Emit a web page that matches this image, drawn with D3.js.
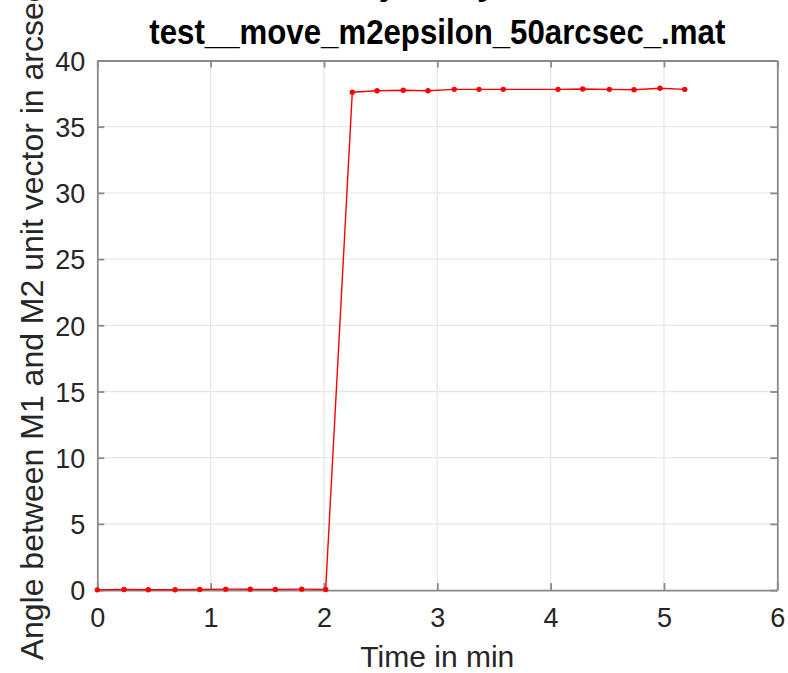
<!DOCTYPE html>
<html>
<head>
<meta charset="utf-8">
<script src="https://cdn.jsdelivr.net/npm/d3@7"></script>
<style>
  html, body { margin: 0; padding: 0; background: #fff; }
  svg { display: block; }
  text { font-family: "Liberation Sans", Arial, Helvetica, sans-serif; }
</style>
</head>
<body>
<svg id="chart" width="788" height="673"></svg>
<script>
// Measured angle between the M1 and M2 unit vectors during the M2 epsilon move
const timeMin = [0, 0.236, 0.450, 0.686, 0.904, 1.133, 1.350, 1.571, 1.804, 2.015,
                 2.250, 2.468, 2.700, 2.918, 3.150, 3.368, 3.582, 4.065, 4.283, 4.518, 4.736, 4.965, 5.183];
const angleArcsec = [0.02, 0.04, 0.03, 0.03, 0.05, 0.07, 0.06, 0.05, 0.07, 0.05,
                     37.60, 37.72, 37.75, 37.72, 37.82, 37.82, 37.82, 37.82, 37.85, 37.82, 37.79, 37.90, 37.82];
const xTicks = [0, 1, 2, 3, 4, 5, 6];
const yTicks = [0, 5, 10, 15, 20, 25, 30, 35, 40];
const titleText = "test__move_m2epsilon_50arcsec_.mat";
const xLabelText = "Time in min";
const yLabelText = "Angle between M1 and M2 unit vector in arcsec";

const svg = d3.select("#chart");
svg.append("rect").attr("width", 788).attr("height", 673).attr("fill", "#fff");

const plot = { left: 97.3, right: 777.3, top: 60.5, bottom: 590.1 };
const x = d3.scaleLinear().domain([0, 6]).range([plot.left, plot.right]);
const y = d3.scaleLinear().domain([0, 40]).range([plot.bottom, plot.top]);

const axisColor = "#8a8a8a";
const tickLen = 7;

// grid
const grid = svg.append("g");
grid.selectAll("line.gx").data(xTicks.slice(1, -1)).join("line")
  .attr("x1", d => x(d)).attr("x2", d => x(d))
  .attr("y1", plot.top).attr("y2", plot.bottom)
  .attr("stroke", "#e8e8e8").attr("stroke-width", 1.3);
grid.selectAll("line.gy").data(yTicks.slice(1, -1)).join("line")
  .attr("x1", plot.left).attr("x2", plot.right)
  .attr("y1", d => y(d)).attr("y2", d => y(d))
  .attr("stroke", "#e8e8e8").attr("stroke-width", 1.3);

// axes: bottom and left carry labels, top and right mirror the ticks
const fontTick = "27px";
const intFmt = d3.format("d");
const bottomAxis = d3.axisBottom(x).tickValues(xTicks).tickFormat(intFmt)
  .tickSizeInner(-tickLen).tickSizeOuter(0).tickPadding(18);
const leftAxis = d3.axisLeft(y).tickValues(yTicks).tickFormat(intFmt)
  .tickSizeInner(-tickLen).tickSizeOuter(0).tickPadding(12);
const topAxis = d3.axisTop(x).tickValues(xTicks).tickSizeInner(-tickLen).tickSizeOuter(0).tickFormat("");
const rightAxis = d3.axisRight(y).tickValues(yTicks).tickSizeInner(-tickLen).tickSizeOuter(0).tickFormat("");

function styleAxis(g) {
  g.select(".domain").attr("stroke", axisColor).attr("stroke-width", 1.8);
  g.selectAll(".tick line").attr("stroke", axisColor).attr("stroke-width", 1.8);
  g.selectAll(".tick text").attr("fill", "#262626").style("font-size", fontTick)
    .style("font-family", '"Liberation Sans", Arial, sans-serif');
}

svg.append("g").attr("transform", `translate(0,${plot.bottom})`).call(bottomAxis).call(styleAxis)
  .selectAll(".tick text").attr("dy", "0.71em");
svg.append("g").attr("transform", `translate(${plot.left},0)`).call(leftAxis).call(styleAxis)
  .selectAll(".tick text").attr("dy", "0.36em");
svg.append("g").attr("transform", `translate(0,${plot.top})`).call(topAxis).call(styleAxis);
svg.append("g").attr("transform", `translate(${plot.right},0)`).call(rightAxis).call(styleAxis);

// data line with point markers
const pts = timeMin.map((t, i) => [t, angleArcsec[i]]);
const line = d3.line().x(d => x(d[0])).y(d => y(d[1]));
svg.append("path").datum(pts)
  .attr("d", line).attr("fill", "none")
  .attr("stroke", "#ff0000").attr("stroke-width", 1.4);
svg.append("g").selectAll("circle").data(pts).join("circle")
  .attr("cx", d => x(d[0])).attr("cy", d => y(d[1]))
  .attr("r", 2.7).attr("fill", "#ff0000");

// title
svg.append("text")
  .attr("x", (plot.left + plot.right) / 2).attr("y", 44)
  .attr("text-anchor", "middle")
  .attr("textLength", 576).attr("lengthAdjust", "spacingAndGlyphs")
  .style("font-size", "35px").style("font-weight", "bold").attr("fill", "#000")
  .text(titleText);

// upper heading line, running off the top edge
svg.append("text").attr("x", 381).attr("y", -5.5)
  .style("font-size", "35px").style("font-weight", "bold").attr("fill", "#000").text("j");
svg.append("text").attr("x", 477).attr("y", -5.5)
  .style("font-size", "35px").style("font-weight", "bold").attr("fill", "#000").text("y");

// axis labels
svg.append("text")
  .attr("x", (plot.left + plot.right) / 2).attr("y", 667)
  .attr("text-anchor", "middle").attr("fill", "#262626")
  .style("font-size", "30px").text(xLabelText);
svg.append("text")
  .attr("transform", `translate(43,${(plot.top + plot.bottom) / 2 - 2}) rotate(-90)`)
  .attr("text-anchor", "middle").attr("fill", "#262626")
  .style("font-size", "32px").text(yLabelText);
</script>
</body>
</html>
